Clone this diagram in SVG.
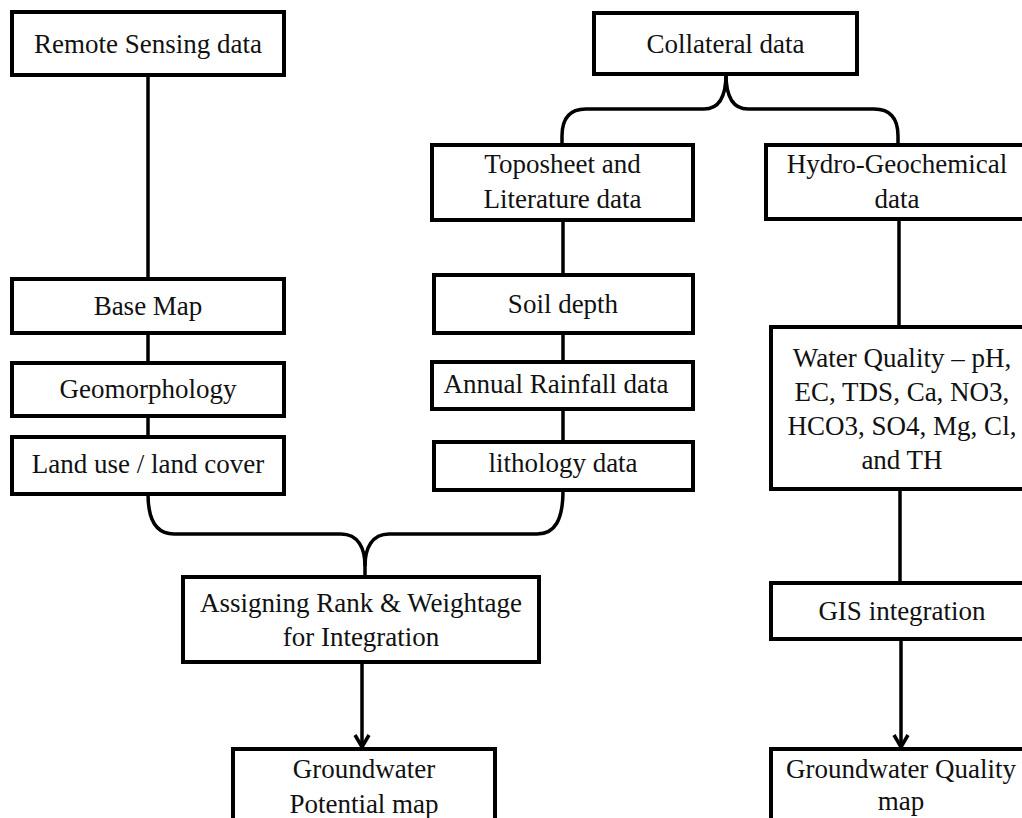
<svg xmlns="http://www.w3.org/2000/svg" width="1022" height="818" viewBox="0 0 1022 818">
<style>
.box{fill:#fff;stroke:#000;stroke-width:4}
.lbl{font-family:"Liberation Serif","DejaVu Serif",serif;font-size:27px;fill:#111;text-anchor:middle}
.conn{fill:none;stroke:#000;stroke-width:3.5}
</style>
<defs>
<marker id="arrow" markerUnits="userSpaceOnUse" viewBox="-16 -10 20 20" markerWidth="20" markerHeight="20" refX="0" refY="0" orient="auto">
<path d="M-12,-7 L0,0 L-12,7" fill="none" stroke="#000" stroke-width="3.5" stroke-linejoin="miter"/>
</marker>
</defs>
<rect width="1022" height="818" fill="#fff"/>
<g id="connectors">
<line class="conn" x1="148" y1="75" x2="148" y2="279"/>
<line class="conn" x1="148" y1="333" x2="148" y2="363"/>
<line class="conn" x1="148" y1="416" x2="148" y2="437"/>
<line class="conn" x1="563" y1="220" x2="563" y2="275"/>
<line class="conn" x1="563" y1="333" x2="563" y2="362"/>
<line class="conn" x1="563" y1="409" x2="563" y2="442"/>
<line class="conn" x1="899" y1="219" x2="899" y2="327"/>
<line class="conn" x1="900" y1="489" x2="900" y2="583"/>
<line class="conn" x1="901" y1="639" x2="901" y2="747" marker-end="url(#arrow)"/>
<line class="conn" x1="362" y1="662" x2="362" y2="747" marker-end="url(#arrow)"/>
<path class="conn" d="M726,74 C726,96 720,109 704,109 L586,109 C569,109 562,119 562,136 L562,145"/>
<path class="conn" d="M726,74 C726,96 732,109 748,109 L874,109 C891,109 898,119 898,136 L898,145"/>
<path class="conn" d="M148,494 C148,520 156,534 174,534 L341,534 C358,534 365,548 365,566 L365,577"/>
<path class="conn" d="M563,490 C563,520 555,534 537,534 L389,534 C372,534 365,548 365,566"/>
</g>
<g id="remote-sensing"><rect class="box" x="12" y="12" width="272" height="63"/><text class="lbl" x="148" y="53">Remote Sensing data</text></g>
<g id="collateral"><rect class="box" x="594" y="13" width="263" height="61"/><text class="lbl" x="725.5" y="53">Collateral data</text></g>
<g id="toposheet"><rect class="box" x="432" y="145" width="261" height="75"/><text class="lbl" x="562.5" y="173">Toposheet and</text><text class="lbl" x="562.5" y="208">Literature data</text></g>
<g id="hydro"><rect class="box" x="766" y="145" width="270" height="74"/><text class="lbl" x="897" y="173">Hydro-Geochemical</text><text class="lbl" x="897" y="208">data</text></g>
<g id="base-map"><rect class="box" x="12" y="279" width="272" height="54"/><text class="lbl" x="148" y="315">Base Map</text></g>
<g id="geomorphology"><rect class="box" x="12" y="363" width="272" height="53"/><text class="lbl" x="148" y="398">Geomorphology</text></g>
<g id="land-use"><rect class="box" x="12" y="437" width="272" height="57"/><text class="lbl" x="148" y="473">Land use / land cover</text></g>
<g id="soil-depth"><rect class="box" x="434" y="275" width="259" height="58"/><text class="lbl" x="563" y="313">Soil depth</text></g>
<g id="rainfall"><rect class="box" x="432" y="362" width="261" height="47"/><text class="lbl" x="556" y="393">Annual Rainfall data</text></g>
<g id="lithology"><rect class="box" x="434" y="442" width="259" height="48"/><text class="lbl" x="563" y="472">lithology data</text></g>
<g id="water-quality"><rect class="box" x="771" y="327" width="265" height="162"/>
<text class="lbl" x="902" y="367">Water Quality – pH,</text>
<text class="lbl" x="902" y="401">EC, TDS, Ca, NO3,</text>
<text class="lbl" x="902" y="435">HCO3, SO4, Mg, Cl,</text>
<text class="lbl" x="902" y="469">and TH</text></g>
<g id="gis"><rect class="box" x="771" y="583" width="265" height="56"/><text class="lbl" x="902" y="620">GIS integration</text></g>
<g id="assigning"><rect class="box" x="183" y="577" width="356" height="85"/><text class="lbl" x="361" y="612">Assigning Rank &amp; Weightage</text><text class="lbl" x="361" y="646">for Integration</text></g>
<g id="gw-potential"><rect class="box" x="233" y="749" width="262" height="80"/><text class="lbl" x="364" y="778">Groundwater</text><text class="lbl" x="364" y="813">Potential map</text></g>
<g id="gw-quality"><rect class="box" x="771" y="749" width="265" height="80"/><text class="lbl" x="901" y="778">Groundwater Quality</text><text class="lbl" x="901" y="810">map</text></g>
</svg>
